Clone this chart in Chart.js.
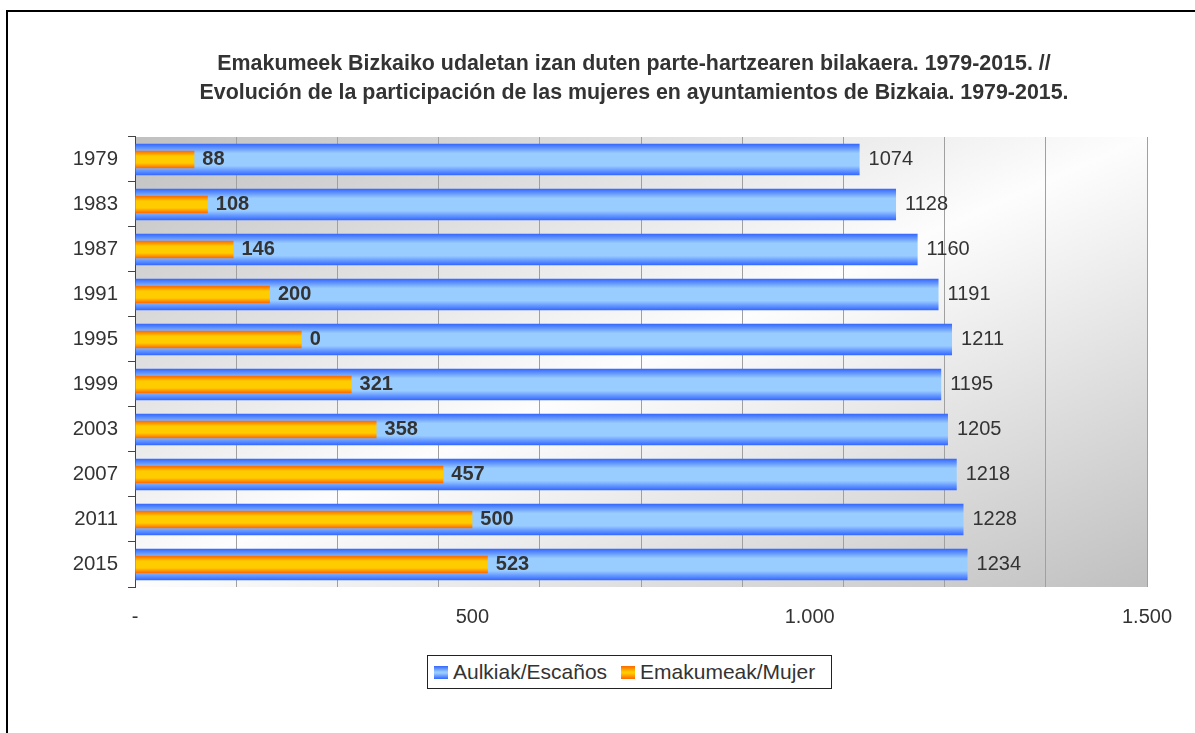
<!DOCTYPE html>
<html>
<head>
<meta charset="utf-8">
<script src="https://cdn.jsdelivr.net/npm/chart.js@4.4.0/dist/chart.umd.min.js"></script>
<style>
  html, body { margin: 0; padding: 0; overflow: hidden; background: #fff; }
  body { font-family: "Liberation Sans", Arial, sans-serif; }
  #frame { position: absolute; left: 6px; top: 10px; width: 1300px; height: 900px; border: 2px solid #000; }
  #chart { position: absolute; left: 0; top: 0; }
  #legend {
    position: absolute; left: 427px; top: 655px; width: 397px; height: 32px;
    border: 1px solid #222; background: #fff;
    display: flex; align-items: center; padding-left: 6px; box-sizing: content-box;
    font-size: 21px; color: #333;
  }
  #legend .item { display: flex; align-items: center; margin-right: 14px; }
  #legend .box { width: 14px; height: 13px; margin-right: 5px; }
</style>
</head>
<body>
<div id="frame"></div>
<canvas id="chart" width="1195" height="733"></canvas>
<div id="legend"></div>
<script>
// ---------- Datos ----------
const years = ["1979", "1983", "1987", "1991", "1995", "1999", "2003", "2007", "2011", "2015"];
const seats = [1074, 1128, 1160, 1191, 1211, 1195, 1205, 1218, 1228, 1234];
const women = [88, 108, 146, 200, 247, 321, 358, 457, 500, 523];
// etiquetas tal como aparecen (1995 muestra "0")
const womenLabels = ["88", "108", "146", "200", "0", "321", "358", "457", "500", "523"];
const seriesNames = ["Aulkiak/Escaños", "Emakumeak/Mujer"];
const xTickValues = [0, 500, 1000, 1500];
const xTickLabels = ["-", "500", "1.000", "1.500"];
const titleLines = [
  "Emakumeek Bizkaiko udaletan izan duten parte-hartzearen bilakaera. 1979-2015. //",
  "Evolución de la participación de las mujeres en ayuntamientos de Bizkaia. 1979-2015."
];

const FONT = '"Liberation Sans", Arial, sans-serif';
Chart.defaults.font.family = FONT;
Chart.defaults.color = "#333";

// ---------- Degradados ----------
function barGradient(dark, light) {
  return function (c) {
    const chart = c.chart;
    if (c.type !== "data" || !chart.chartArea) return light;
    const y = chart.scales.y;
    const ds = chart.data.datasets[c.datasetIndex];
    const h = (y.bottom - y.top) / years.length * ds.barPercentage;
    const yc = y.getPixelForValue(c.dataIndex);
    const g = chart.ctx.createLinearGradient(0, yc - h / 2, 0, yc + h / 2);
    g.addColorStop(0, dark);
    g.addColorStop(0.3, light);
    g.addColorStop(0.7, light);
    g.addColorStop(1, dark);
    return g;
  };
}

const plotBackground = {
  id: "plotBackground",
  beforeDraw(chart) {
    const { ctx, chartArea: a } = chart;
    const w = a.right - a.left, h = a.bottom - a.top;
    const d = Math.sqrt(w * w + h * h);
    const ext = w * h / d;
    const cx = a.left + w / 2, cy = a.top + h / 2;
    const ux = h / d, uy = w / d;
    const g = ctx.createLinearGradient(cx - ext * ux, cy - ext * uy, cx + ext * ux, cy + ext * uy);
    g.addColorStop(0, "#c0c0c0");
    g.addColorStop(0.5, "#fdfdfd");
    g.addColorStop(1, "#c0c0c0");
    ctx.save();
    ctx.fillStyle = g;
    ctx.fillRect(a.left, a.top, w, h);
    ctx.restore();
  }
};

const valueLabels = {
  id: "valueLabels",
  afterDatasetsDraw(chart) {
    const ctx = chart.ctx;
    ctx.save();
    ctx.textBaseline = "middle";
    ctx.textAlign = "left";
    ctx.fillStyle = "#333";
    ctx.font = "20px " + FONT;
    chart.getDatasetMeta(0).data.forEach((bar, i) => {
      ctx.fillText(String(seats[i]), bar.x + 9, bar.y);
    });
    ctx.font = "bold 20px " + FONT;
    chart.getDatasetMeta(1).data.forEach((bar, i) => {
      ctx.fillText(womenLabels[i], bar.x + 8, bar.y);
    });
    ctx.restore();
  }
};

// ---------- Gráfico ----------
const chart = new Chart(document.getElementById("chart"), {
  type: "bar",
  data: {
    labels: years,
    datasets: [
      {
        label: seriesNames[0],
        data: seats,
        backgroundColor: barGradient("#3366ff", "#99ccff"),
        legendColor: "linear-gradient(#3366ff, #99ccff 45%, #99ccff 55%, #3366ff)",
        barPercentage: 0.7,
        categoryPercentage: 1,
        grouped: false,
        order: 1
      },
      {
        label: seriesNames[1],
        data: women,
        backgroundColor: barGradient("#ff6600", "#ffcc00"),
        legendColor: "linear-gradient(#ff6600, #ffcc00 45%, #ffcc00 55%, #ff6600)",
        barPercentage: 0.385,
        categoryPercentage: 1,
        grouped: false,
        order: 0
      }
    ]
  },
  options: {
    indexAxis: "y",
    responsive: false,
    animation: false,
    layout: { padding: { left: 73, right: 0, top: 0, bottom: 0 } },
    plugins: {
      legend: { display: false },
      tooltip: { enabled: false },
      title: {
        display: true,
        text: titleLines,
        color: "#333",
        font: { size: 21.4, weight: "bold", lineHeight: 1.355 },
        padding: { top: 50, bottom: 29 }
      }
    },
    scales: {
      x: {
        type: "linear",
        min: 0,
        max: 1500,
        position: "bottom",
        ticks: { display: false, stepSize: 150 },
        grid: { color: "#a0a0a0", drawTicks: false },
        border: { display: false }
      },
      x2: {
        type: "linear",
        min: 0,
        max: 1500,
        position: "bottom",
        afterBuildTicks(s) { s.ticks = xTickValues.map(v => ({ value: v })); },
        ticks: {
          color: "#333",
          font: { size: 20 },
          padding: 18,
          maxRotation: 0,
          autoSkip: false,
          callback: (v, i) => xTickLabels[i]
        },
        grid: { display: false, drawTicks: false },
        border: { display: false },
        afterFit(s) { s.height = 146; }
      },
      y: {
        type: "category",
        grid: { offset: true, drawOnChartArea: false, drawTicks: true, tickLength: 7, color: "#444" },
        border: { color: "#444" },
        ticks: { color: "#333", font: { size: 20.4 }, padding: 10 },
        afterFit(s) { s.width = 62; }
      },
      yR: {
        type: "linear",
        position: "right",
        grid: { display: false, drawTicks: false },
        border: { display: false },
        ticks: { display: false },
        afterFit(s) { s.width = 48; }
      }
    }
  },
  plugins: [plotBackground, valueLabels]
});

// Leyenda HTML
const legend = document.getElementById("legend");
chart.data.datasets.forEach(ds => {
  const item = document.createElement("div");
  item.className = "item";
  const box = document.createElement("span");
  box.className = "box";
  box.style.background = ds.legendColor;
  const txt = document.createElement("span");
  txt.textContent = ds.label;
  item.appendChild(box);
  item.appendChild(txt);
  legend.appendChild(item);
});
</script>
</body>
</html>
